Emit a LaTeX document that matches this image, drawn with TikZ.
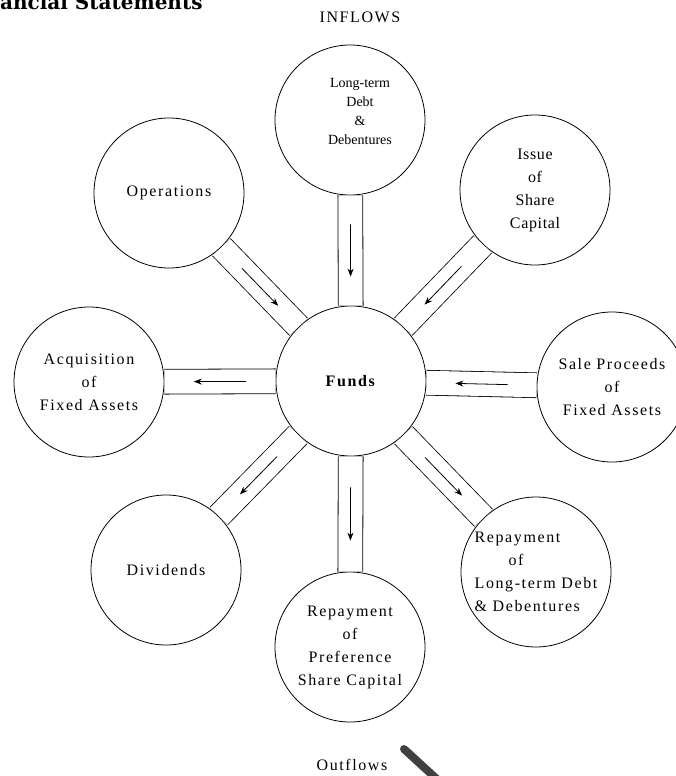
\documentclass[tikz,border=0pt]{standalone}
\usepackage{fontspec}
\setmainfont{Liberation Serif}[LetterSpace=10]
\newfontfamily\tightserif{Liberation Serif}
\newfontfamily\midserif{Liberation Serif}[LetterSpace=4]
\newfontfamily\headserif{DejaVu Serif}
\usetikzlibrary{arrows.meta,calc}
\begin{document}
\begin{tikzpicture}[x=1pt,y=-1pt,
  blob/.style={circle, draw, line width=0.8pt, minimum size=150pt, inner sep=0pt, align=center, font={\fontsize{16}{23}\selectfont}},
  tube/.style={draw, line width=0.8pt, double=white, double distance=24pt},
  flow/.style={-{Stealth[length=8pt,width=6pt]}, line width=0.8pt},
  lbl/.style={font={\fontsize{16}{20}\selectfont}, inner sep=0pt}]
\useasboundingbox[fill=white] (0,0) rectangle (676,776);

\node[blob] (funds) at (351,381) {\textbf{Funds}};
\node[blob] (ltd) at (350,120) {};
\node[font={\tightserif\fontsize{14}{19}\selectfont}, align=center, inner sep=0pt] (ltdtext) at (360,111) {Long-term\\Debt\\\&\\Debentures};
\node[blob] (ops) at (169,193) {Operations};
\node[blob, font={\midserif\fontsize{16}{23}\selectfont}] (issue) at (535,190) {Issue\\of\\Share\\Capital};
\node[blob] (acq) at (89,382) {Acquisition\\of\\Fixed Assets};
\node[blob] (sale) at (612,387) {Sale Proceeds\\of\\Fixed Assets};
\node[blob] (div) at (166,570) {Dividends};
\node[blob] (pref) at (350,647) {Repayment\\of\\Preference\\Share Capital};
\node[blob, align=left] (rltd) at (536,572) {Repayment\\\hspace{34pt}of\\Long-term Debt\\\& Debentures};

\foreach \n in {ltd,ops,issue,sale,acq,div,pref,rltd}
  \draw[tube] (funds) -- (\n);

\foreach \n in {ltd,ops,issue,sale}
  \draw[flow] ($(\n)!0.4!(funds)$) -- ($(\n)!0.6!(funds)$);
\foreach \n in {acq,div,pref,rltd}
  \draw[flow] ($(funds)!0.4!(\n)$) -- ($(funds)!0.6!(\n)$);

\node[lbl] (inflows) at (360,17) {INFLOWS};
\node[lbl] (outflows) at (352,765) {Outflows};
\node[font={\headserif\bfseries\fontsize{20}{22}\selectfont}, anchor=base west, inner sep=0pt] (head) at (0,10) {ancial Statements};

\draw[line width=8pt, line cap=round, black!75] (404,749) -- (440,782);
\end{tikzpicture}
\end{document}
